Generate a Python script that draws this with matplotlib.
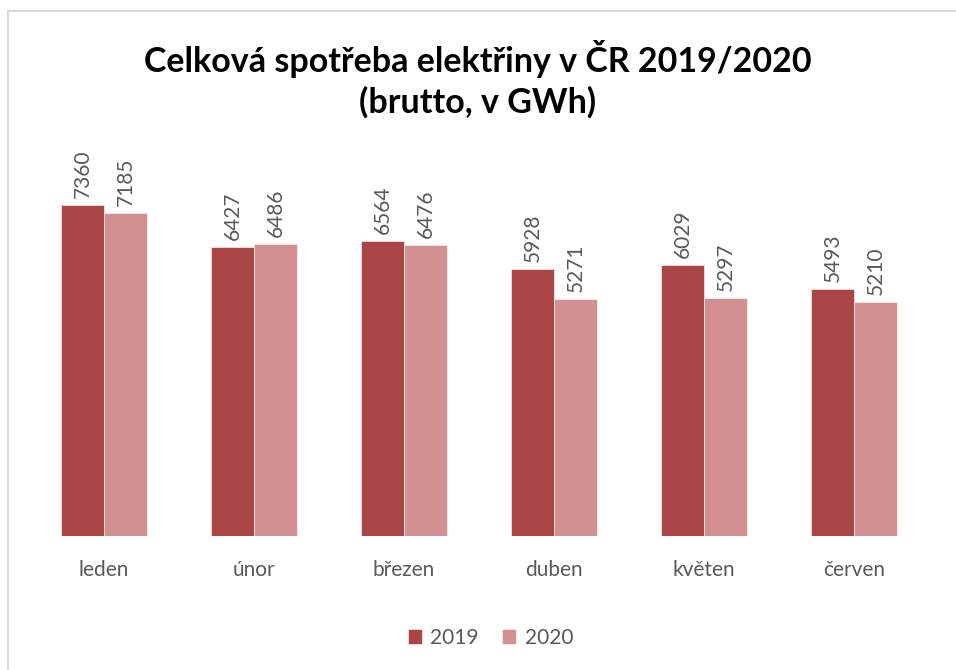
import matplotlib.pyplot as plt
import numpy as np
from matplotlib.patches import Rectangle

plt.rcParams['font.family'] = ['Lato', 'DejaVu Sans']

mesice = ['leden', 'únor', 'březen', 'duben', 'květen', 'červen']
rok_2019 = [7360, 6427, 6564, 5928, 6029, 5493]
rok_2020 = [7185, 6486, 6476, 5271, 5297, 5210]

barva_2019 = '#A94545'
barva_2020 = '#D39090'
seda = '#595959'

fig = plt.figure(figsize=(9.56, 6.70), dpi=100)
ax = fig.add_axes([0.0303, 0.2, 0.9414, 0.5373])

x = np.arange(len(mesice))
w = 0.287
b1 = ax.bar(x - w/2, rok_2019, w, color=barva_2019, edgecolor='white', linewidth=0.4, label='2019')
b2 = ax.bar(x + w/2, rok_2020, w, color=barva_2020, edgecolor='white', linewidth=0.4, label='2020')

for bars in (b1, b2):
    for b in bars:
        ax.annotate(f'{int(b.get_height())}', (b.get_x() + b.get_width()/2, b.get_height()),
                    xytext=(0, 5), textcoords='offset points', rotation=90,
                    ha='center', va='bottom', fontsize=15, color=seda)

ax.set_xlim(-0.5, 5.5)
ax.set_ylim(0, 8000)
ax.set_xticks(x)
ax.set_xticklabels(mesice, fontsize=15, color=seda)
ax.tick_params(axis='x', length=0, pad=17)
ax.set_yticks([])
for s in ax.spines.values():
    s.set_visible(False)

fig.text(0.5, 0.912, 'Celková spotřeba elektřiny v ČR 2019/2020', ha='center', va='center',
         fontsize=24.5, fontweight='bold', color='black')
fig.text(0.5, 0.847, '(brutto, v GWh)', ha='center', va='center',
         fontsize=24.5, fontweight='bold', color='black')

fig.legend(handles=[b1, b2], loc='center', bbox_to_anchor=(0.513, 0.048), ncol=2,
           frameon=False, fontsize=15, labelcolor=seda, handlelength=0.7, handleheight=0.7,
           columnspacing=1.1, handletextpad=0.4)

fig.patches.append(Rectangle((7.5/956, -0.01), 1.0, 1 - 11/670 + 0.01, transform=fig.transFigure,
                             fill=False, edgecolor='#D9D9D9', linewidth=1.5))

fig.savefig('out.png', dpi=100)
